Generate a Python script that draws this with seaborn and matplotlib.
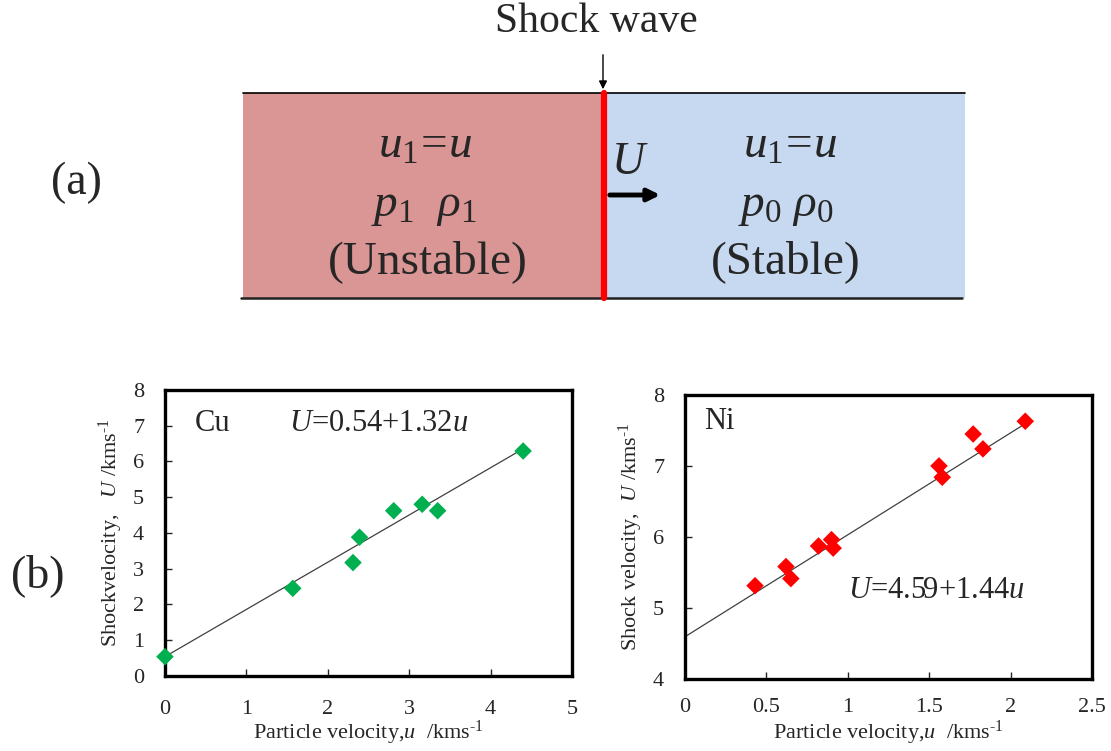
import numpy as np
import pandas as pd
import matplotlib.pyplot as plt
import matplotlib.patches as mpatches
import seaborn as sns

# Cu Hugoniot data: particle velocity u, shock velocity U (km/s)
cu_u = [0.0, 1.57, 2.31, 2.39, 2.81, 3.16, 3.35, 4.40]
cu_U = [0.54, 2.45, 3.17, 3.88, 4.62, 4.80, 4.62, 6.29]
cu_fit_u = [0.0, 4.40]
cu_fit_U = [0.54, 6.35]

# Ni Hugoniot data
ni_u = [0.43, 0.62, 0.65, 0.82, 0.90, 0.91, 1.56, 1.58, 1.77, 1.83, 2.09]
ni_U = [5.31, 5.58, 5.41, 5.87, 5.96, 5.84, 7.00, 6.84, 7.45, 7.24, 7.63]
ni_fit_u = [0.0, 2.10]
ni_fit_U = [4.59, 7.61]

cu_xticks = [0, 1, 2, 3, 4, 5]
cu_yticks = [0, 1, 2, 3, 4, 5, 6, 7, 8]
ni_xticks = [0, 0.5, 1, 1.5, 2, 2.5]
ni_xticklabels = ['0', '0.5', '1', '1.5', '2', '2.5']
ni_yticks = [4, 5, 6, 7, 8]

sns.set_style('ticks')
plt.rcParams['font.family'] = ['Liberation Serif', 'DejaVu Serif']
plt.rcParams['mathtext.fontset'] = 'custom'
plt.rcParams['mathtext.rm'] = 'Liberation Serif'
plt.rcParams['mathtext.it'] = 'Liberation Serif:italic'
plt.rcParams['mathtext.bf'] = 'Liberation Serif:bold'

fig = plt.figure(figsize=(11.11, 7.51), dpi=100)

#================ (a) shock wave sketch =====================
ax0 = fig.add_axes([0, 0, 1, 1])
ax0.set_xlim(0, 1111)
ax0.set_ylim(751, 0)
ax0.axis('off')

ax0.add_patch(mpatches.Rectangle((243, 93), 361, 205, facecolor='#DA9694', edgecolor='none'))
ax0.add_patch(mpatches.Rectangle((604, 93), 361, 205, facecolor='#C6D9F0', edgecolor='none'))
ax0.plot([243, 965], [93, 93], color='black', lw=1.2)
ax0.plot([241, 962], [298, 298], color='#222222', lw=1.8)
ax0.plot([604, 604], [93, 298], color='#FF0000', lw=4.5)

ax0.text(596, 22, 'Shock wave', fontsize=30, ha='center', va='center')
ax0.annotate('', xy=(603, 92), xytext=(603, 52),
             arrowprops=dict(arrowstyle='-|>', lw=1, color='black', mutation_scale=12))
ax0.annotate('', xy=(663, 195), xytext=(607, 195),
             arrowprops=dict(arrowstyle='-|>', lw=3.5, color='black', mutation_scale=18))
ax0.text(630, 163, r'$U$', fontsize=33, ha='center', va='center')

ax0.text(425, 146, r'$u_{\rm 1}\!=\!u$', fontsize=34, ha='center', va='center')
ax0.text(424, 207, r'$p_{\rm 1}\ \ \rho_{\rm 1}$', fontsize=34, ha='center', va='center')
ax0.text(428, 262, '(Unstable)', fontsize=34, ha='center', va='center')
ax0.text(790, 146, r'$u_{\rm 1}\!=\!u$', fontsize=34, ha='center', va='center')
ax0.text(786, 207, r'$p_{\rm 0}\ \rho_{\rm 0}$', fontsize=34, ha='center', va='center')
ax0.text(786, 262, '(Stable)', fontsize=34, ha='center', va='center')
ax0.text(76, 183, '(a)', fontsize=33, ha='center', va='center')
ax0.text(38, 576, '(b)', fontsize=33, ha='center', va='center')

#================ (b) Hugoniot plots =====================
def style_axes(ax):
    for sp in ax.spines.values():
        sp.set_visible(True)
        sp.set_linewidth(2.4)
        sp.set_color('black')
    ax.tick_params(direction='in', length=5, width=1, labelsize=16)
    ax.tick_params(axis='x', pad=17)
    ax.tick_params(axis='y', pad=15)

xlab = r'Particle velocity,$u$  /kms$^{\text{-}1}$'

ax1 = fig.add_axes([0.1485, 0.0999, 0.3663, 0.381])
cu_df = pd.DataFrame({'u': cu_u, 'U': cu_U})
sns.lineplot(x=cu_fit_u, y=cu_fit_U, ax=ax1, color='#404040', lw=0.9)
sns.scatterplot(data=cu_df, x='u', y='U', ax=ax1, marker='D', s=80,
                color='#00B050', edgecolor='none', zorder=3, clip_on=False)
ax1.set_xlim(0, 5)
ax1.set_ylim(0, 8)
ax1.set_xticks(cu_xticks)
ax1.set_yticks(cu_yticks)
style_axes(ax1)
ax1.set_xlabel(xlab, fontsize=16, labelpad=0)
ax1.set_ylabel(r'Shockvelocity,   $U$ /kms$^{\text{-}1}$', fontsize=16, labelpad=6)
ax1.text(0.072, 0.883, 'Cu', transform=ax1.transAxes, fontsize=22, va='center')
ax1.text(0.305, 0.883, r'$U$=0.54+1.32$u$', transform=ax1.transAxes, fontsize=22, va='center')

ax2 = fig.add_axes([0.6166, 0.0965, 0.3663, 0.3775])
ni_df = pd.DataFrame({'u': ni_u, 'U': ni_U})
sns.lineplot(x=ni_fit_u, y=ni_fit_U, ax=ax2, color='#404040', lw=0.9)
sns.scatterplot(data=ni_df, x='u', y='U', ax=ax2, marker='D', s=80,
                color='#FF0000', edgecolor='none', zorder=3)
ax2.set_xlim(0, 2.5)
ax2.set_ylim(4, 8)
ax2.set_xticks(ni_xticks)
ax2.set_xticklabels(ni_xticklabels)
ax2.set_yticks(ni_yticks)
style_axes(ax2)
ax2.tick_params(axis='x', pad=14)
ax2.set_xlabel(xlab, fontsize=16, labelpad=1)
ax2.set_ylabel(r'Shock velocity,  $U$ /kms$^{\text{-}1}$', fontsize=16, labelpad=6)
ax2.text(0.047, 0.905, 'Ni', transform=ax2.transAxes, fontsize=22, va='center')
ax2.text(0.40, 0.311, r'$U$=4.59+1.44$u$', transform=ax2.transAxes, fontsize=22, va='center')

fig.savefig('out.png', dpi=100)
